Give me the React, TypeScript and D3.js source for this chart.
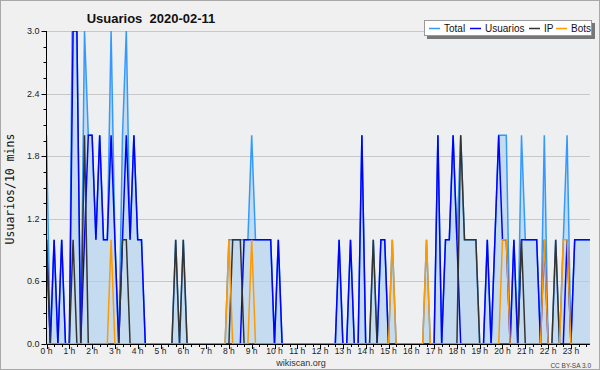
import React from 'react';
import * as d3 from 'd3';

const W = 600;
const H = 370;

const usuarios = [
  1,0,1,0,1,0,0,3,3,0,
  1,2,2,1,2,1,1,2,1,0,
  1,2,1,2,1,1,0,0,0,0,
  0,0,0,0,0,0,0,0,0,0,
  0,0,0,0,0,0,0,0,0,0,
  0,0,1,1,1,1,1,1,1,1,
  0,1,0,0,0,0,0,0,0,0,
  0,0,0,0,0,0,0,1,0,0,
  1,0,0,2,0,0,0,0,1,1,
  0,0,0,0,0,0,0,0,0,0,
  0,0,0,2,0,1,1,2,1,0,
  0,0,0,0,0,0,1,0,1,2,
  1,1,0,1,0,1,1,1,1,1,
  0,1,0,0,0,0,0,1,0,1,
  1,1,1,1,
];

const ip = [
  1,0,0,0,0,0,0,1,0,0,
  2,0,0,0,0,0,0,0,0,0,
  1,1,0,0,0,0,0,0,0,0,
  0,0,0,0,1,0,1,0,0,0,
  0,0,0,0,0,0,0,0,0,1,
  1,1,0,0,0,0,0,0,0,0,
  0,0,0,0,0,0,0,0,0,0,
  0,0,0,0,0,0,0,0,0,0,
  0,0,0,0,0,0,1,0,0,0,
  0,0,0,0,0,0,0,0,0,0,
  0,0,0,0,0,0,0,0,0,2,
  1,1,1,1,0,0,0,0,0,0,
  0,0,0,0,0,1,0,0,0,0,
  0,0,0,0,1,0,0,0,0,0,
  0,0,0,0,
];

const bots = [
  0,0,0,0,0,0,0,0,0,0,
  0,0,0,0,0,0,0,1,0,0,
  0,0,0,0,0,0,0,0,0,0,
  0,0,0,0,0,0,0,0,0,0,
  0,0,0,0,0,0,0,0,1,0,
  0,0,0,0,1,0,0,0,0,0,
  0,0,0,0,0,0,0,0,0,0,
  0,0,0,0,0,0,0,0,0,0,
  0,0,0,0,0,0,0,0,0,0,
  0,1,0,0,0,0,0,0,0,0,
  1,0,0,0,0,0,0,0,0,0,
  0,0,0,0,0,0,0,0,0,0,
  1,1,0,0,0,0,0,0,0,0,
  0,1,0,0,0,0,1,1,0,0,
  0,0,0,0,
];

const total = [
  2,0,1,0,1,0,0,4,3,0,
  3,2,2,1,2,1,1,3,1,0,
  2,3,1,2,1,1,0,0,0,0,
  0,0,0,0,1,0,1,0,0,0,
  0,0,0,0,0,0,0,0,1,1,
  1,1,1,1,2,1,1,1,1,1,
  0,1,0,0,0,0,0,0,0,0,
  0,0,0,0,0,0,0,1,0,0,
  1,0,0,2,0,0,1,0,1,1,
  0,1,0,0,0,0,0,0,0,0,
  1,0,0,2,0,1,1,2,1,2,
  1,1,1,1,0,0,1,0,1,2,
  2,2,0,1,0,2,1,1,1,1,
  0,2,0,0,1,0,1,2,0,1,
  1,1,1,1,
];

const hourLabels = [
  '0 h','1 h','2 h','3 h','4 h','5 h','6 h','7 h','8 h','9 h','10 h','11 h',
  '12 h','13 h','14 h','15 h','16 h','17 h','18 h','19 h','20 h','21 h','22 h','23 h',
];
const yTickValues = [0, 0.6, 1.2, 1.8, 2.4, 3.0];
const yTickLabels = ['0.0', '0.6', '1.2', '1.8', '2.4', '3.0'];

const legendItems = [
  { name: 'Total', color: '#3399ff' },
  { name: 'Usuarios', color: '#0000ff' },
  { name: 'IP', color: '#333333' },
  { name: 'Bots', color: '#ff9900' },
];

const FONT = 'Liberation Sans, Arial, sans-serif';

export default function App() {
  const left = 46.5, right = 589.9, top = 31, bottom = 344;
  const x = d3.scaleLinear().domain([0, 143]).range([left, right]);
  const y = d3.scaleLinear().domain([0, 3]).range([bottom, top]);
  const idx = d3.range(total.length);

  const mkLine = (arr: number[]) =>
    d3.line<number>().x((i) => x(i)).y((i) => y(arr[i]))(idx) || '';
  const areaPath =
    d3.area<number>().x((i) => x(i)).y0(y(0)).y1((i) => y(total[i]))(idx) || '';

  const minorY = d3.range(0, 3.0001, 0.15);
  const minorX = d3.range(0, 144, 2);

  return (
    <svg width={W} height={H} style={{ position: 'absolute', left: 0, top: 0 }}
      xmlns="http://www.w3.org/2000/svg">
      <defs>
        <clipPath id="plotclip">
          <rect x={left} y={top} width={right - left + 1} height={bottom - top} />
        </clipPath>
      </defs>
      <rect x={0.5} y={0.5} width={W - 1} height={H - 1} fill="#f0f0f0" stroke="#a8a8a8" />
      <rect x={left} y={top} width={right - left} height={bottom - top} fill="#edeff1" />

      <path d={areaPath} fill="#c5dcf0" clipPath="url(#plotclip)" />

      {yTickValues.map((v) => (
        <line key={'g' + v} x1={left} x2={right} y1={Math.round(y(v)) + 0.5} y2={Math.round(y(v)) + 0.5}
          stroke="#c8c8c8" strokeWidth={1} />
      ))}

      <g clipPath="url(#plotclip)" fill="none" strokeWidth={1.5} strokeLinejoin="miter">
        <path d={mkLine(total)} stroke="#3399ff" />
        <path d={mkLine(usuarios)} stroke="#0000ff" />
        <path d={mkLine(ip)} stroke="#333333" />
        <path d={mkLine(bots)} stroke="#ff9900" />
      </g>

      {/* axes */}
      <line x1={left} x2={left} y1={top} y2={bottom} stroke="#000" />
      <line x1={left} x2={right} y1={bottom + 0.5} y2={bottom + 0.5} stroke="#000" />
      {minorY.map((v, k) => (
        <line key={'yt' + k} x1={left - (k % 4 === 0 ? 5 : 3)} x2={left}
          y1={Math.round(y(v)) + 0.5} y2={Math.round(y(v)) + 0.5} stroke="#000" />
      ))}
      {yTickValues.map((v, k) => (
        <text key={'yl' + k} x={left - 7} y={y(v) + 3} textAnchor="end"
          fontFamily={FONT} fontSize={9} fill="#222">{yTickLabels[k]}</text>
      ))}
      {minorX.map((i) => (
        <line key={'xt' + i} x1={Math.round(x(i)) + 0.5} x2={Math.round(x(i)) + 0.5}
          y1={bottom} y2={bottom + (i % 6 === 0 ? 5 : 3)} stroke="#000" />
      ))}
      {hourLabels.map((lab, h) => (
        <text key={'xl' + h} x={x(h * 6)} y={bottom + 9.5} textAnchor="middle"
          fontFamily={FONT} fontSize={8.5} fill="#222">{lab}</text>
      ))}

      <text x={0} y={0} transform={`translate(14,189) rotate(-90)`} textAnchor="middle"
        fontFamily="DejaVu Sans Mono, monospace" fontSize={11.5} fill="#111">Usuarios/10 mins</text>

      <text x={151} y={23} textAnchor="middle" fontFamily={FONT} fontSize={13} fontWeight="bold"
        fill="#111">{'Usuarios\u00a0\u00a02020-02-11'}</text>

      <text x={301} y={366} textAnchor="middle" fontFamily={FONT} fontSize={9} fill="#333">wikiscan.org</text>
      <text x={591} y={367.5} textAnchor="end" fontFamily={FONT} fontSize={6.5} fill="#444">CC BY-SA 3.0</text>

      {/* legend */}
      <rect x={427} y={23} width={168} height={16} fill="#777" />
      <rect x={424.5} y={20.5} width={167} height={15} fill="#fff" stroke="#999" />
      {(() => {
        const pos = [429, 470, 529, 556];
        return legendItems.map((it, k) => (
          <g key={it.name}>
            <line x1={pos[k]} x2={pos[k] + 11} y1={28.5} y2={28.5} stroke={it.color} strokeWidth={1.5} />
            <text x={pos[k] + 15} y={32} fontFamily={FONT} fontSize={10} fill="#111">{it.name}</text>
          </g>
        ));
      })()}
    </svg>
  );
}
